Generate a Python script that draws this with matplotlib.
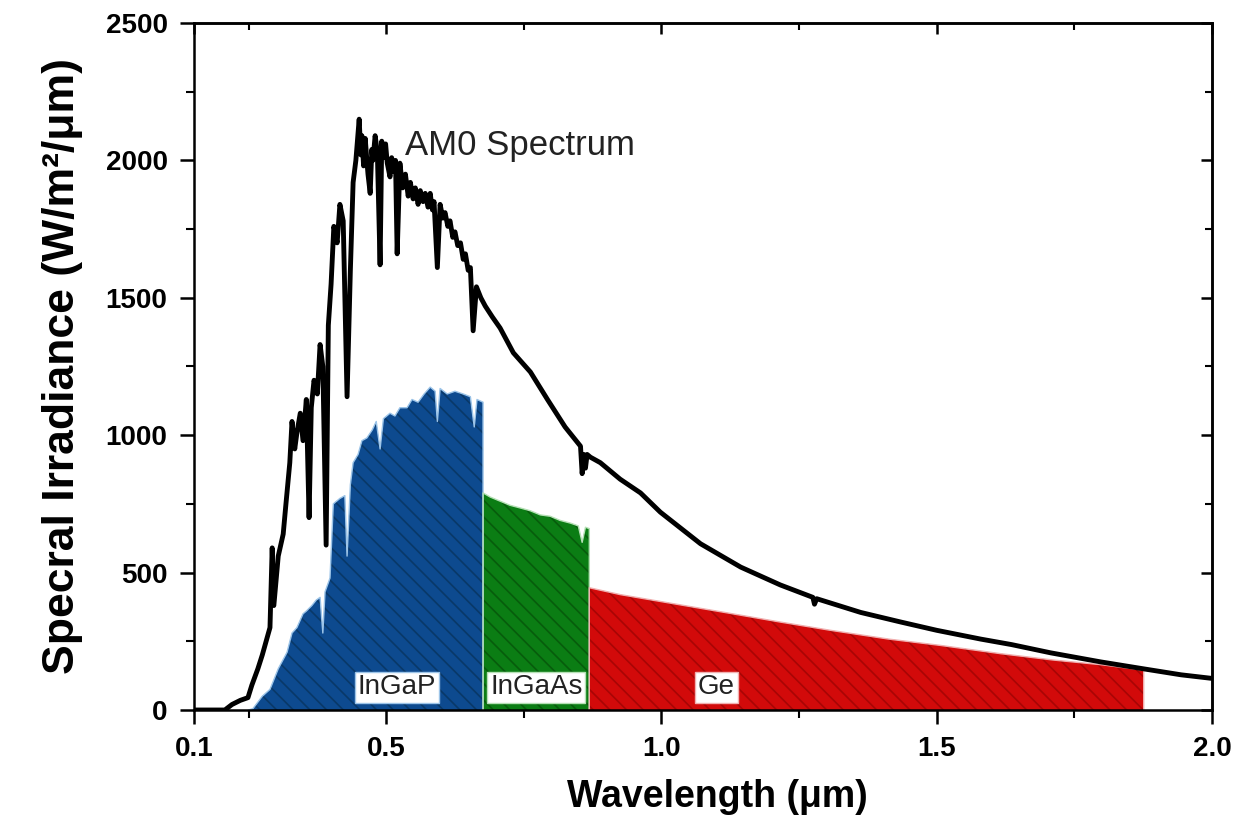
import numpy as np
import matplotlib
matplotlib.use("Agg")
import matplotlib.pyplot as plt
from matplotlib.ticker import FixedLocator

# AM0 spectrum (wavelength in um, irradiance in W/m2/um)
am0_wl = [0.151, 0.207, 0.220, 0.235, 0.249, 0.256, 0.267, 0.275, 0.282, 0.289,
          0.293, 0.296, 0.304, 0.313, 0.318, 0.325, 0.329, 0.334, 0.338, 0.344,
          0.349, 0.355, 0.360, 0.364, 0.369, 0.375, 0.380, 0.385, 0.391, 0.395,
          0.400, 0.405, 0.411, 0.416, 0.422, 0.429, 0.435, 0.440, 0.445, 0.451,
          0.454, 0.456, 0.459, 0.462, 0.465, 0.467, 0.471, 0.474, 0.476, 0.480,
          0.484, 0.489, 0.492, 0.495, 0.499, 0.502, 0.507, 0.510, 0.513, 0.517,
          0.520, 0.525, 0.530, 0.535, 0.540, 0.544, 0.549, 0.553, 0.558, 0.562,
          0.567, 0.571, 0.576, 0.580, 0.584, 0.587, 0.593, 0.598, 0.603, 0.607,
          0.612, 0.616, 0.621, 0.625, 0.630, 0.635, 0.640, 0.644, 0.649, 0.653,
          0.658, 0.664, 0.672, 0.680, 0.693, 0.707, 0.731, 0.762, 0.793, 0.825,
          0.853, 0.856, 0.859, 0.862, 0.865, 0.871, 0.889, 0.925, 0.962, 0.998,
          1.071, 1.144, 1.216, 1.275, 1.278, 1.282, 1.362, 1.435, 1.500, 1.580,
          1.636, 1.707, 1.798, 1.875, 1.944, 2.000]
am0_irr = [0, 0, 20, 35, 45, 90, 150, 200, 250, 300,
           590, 380, 560, 640, 750, 900, 1050, 950, 1010, 1080,
           980, 1130, 700, 1100, 1200, 1150, 1330, 1250, 600, 1400,
           1550, 1760, 1700, 1840, 1780, 1140, 1600, 1920, 2000, 2150,
           2020, 2090, 1980, 2080, 2000, 1950, 1880, 2040, 2000, 2090,
           2030, 1620, 2070, 2010, 2060, 1990, 1940, 2010, 1960, 2000,
           1660, 1990, 1900, 1950, 1870, 1920, 1860, 1900, 1840, 1890,
           1850, 1880, 1830, 1880, 1820, 1850, 1610, 1840, 1790, 1810,
           1760, 1780, 1720, 1740, 1690, 1700, 1640, 1660, 1600, 1610,
           1380, 1540, 1500, 1470, 1430, 1390, 1300, 1230, 1130, 1030,
           960, 860, 930, 880, 930, 920, 900, 840, 790, 720,
           605, 520, 455, 410, 385, 405, 355, 320, 290, 258,
           238, 208, 175, 150, 128, 115]

# InGaP top cell share
ingap_wl = [0.250, 0.258, 0.275, 0.289, 0.304, 0.320, 0.329, 0.338, 0.349, 0.355,
            0.365, 0.373, 0.380, 0.385, 0.389, 0.398, 0.404, 0.416, 0.425, 0.429,
            0.435, 0.440, 0.449, 0.456, 0.465, 0.475, 0.482, 0.489, 0.495, 0.507,
            0.516, 0.525, 0.538, 0.547, 0.558, 0.569, 0.580, 0.589, 0.593, 0.598,
            0.611, 0.625, 0.640, 0.653, 0.660, 0.665, 0.676]
ingap_irr = [0, 5, 50, 75, 150, 210, 280, 300, 350, 360,
             380, 400, 410, 280, 430, 480, 750, 770, 780, 560,
             820, 900, 930, 980, 990, 1020, 1050, 950, 1060, 1080,
             1070, 1100, 1100, 1130, 1120, 1150, 1175, 1160, 1050, 1170,
             1150, 1160, 1150, 1140, 1030, 1130, 1120]

# InGaAs middle cell share
ingaas_wl = [0.676, 0.689, 0.707, 0.725, 0.744, 0.762, 0.780, 0.798, 0.816, 0.835,
             0.849, 0.856, 0.862, 0.869]
ingaas_irr = [790, 775, 760, 745, 735, 725, 710, 705, 690, 680,
              670, 610, 665, 660]

# Ge bottom cell share
ge_wl = [0.869, 0.925, 0.998, 1.115, 1.216, 1.307, 1.413, 1.507, 1.616, 1.711,
         1.798, 1.876]
ge_irr = [445, 420, 395, 355, 320, 290, 258, 235, 205, 182,
          165, 145]

x_ticks = [0.151, 0.5, 1.0, 1.5, 2.0]
x_tick_labels = ["0.1", "0.5", "1.0", "1.5", "2.0"]
x_minor = [0.25, 0.75, 1.25, 1.75]
y_ticks = [0, 500, 1000, 1500, 2000, 2500]
y_minor = [250, 750, 1250, 1750, 2250]

plt.rcParams['font.family'] = ['Liberation Sans', 'DejaVu Sans']
plt.rcParams['hatch.linewidth'] = 1.2

fig = plt.figure(figsize=(12.47, 8.36), dpi=100)
ax = fig.add_axes([194 / 1247, 126 / 836, 1018 / 1247, 687 / 836])


def fill_cell(wl, irr, face, hatch_col, edge_col):
    wl = [wl[0]] + list(wl) + [wl[-1]]
    irr = [0] + list(irr) + [0]
    ax.fill(wl, irr, facecolor=face, edgecolor=hatch_col, hatch="\\\\", linewidth=0, zorder=2)
    ax.plot(wl, irr, color=edge_col, lw=1.0, zorder=2.5)


fill_cell(ingap_wl, ingap_irr, "#0d4a8f", "#093868", "#9cc4e8")
fill_cell(ingaas_wl, ingaas_irr, "#0b7d14", "#075c0c", "#b5e0b5")
fill_cell(ge_wl, ge_irr, "#d20a0a", "#a80505", "#f0b0b0")

ax.plot(am0_wl, am0_irr, color="black", lw=3.5, zorder=3)

ax.text(0.535, 2055, "AM0 Spectrum", fontsize=25, color="#222222", va="center", ha="left", zorder=4)

box = dict(boxstyle="square,pad=0.1", facecolor="white", linewidth=1.0)
ax.text(0.520, 82, "InGaP", fontsize=20, ha="center", va="center", color="#222222",
        bbox=dict(box, edgecolor="#9cc4e8"), zorder=4)
ax.text(0.773, 82, "InGaAs", fontsize=20, ha="center", va="center", color="#222222",
        bbox=dict(box, edgecolor="#b5e0b5"), zorder=4)
ax.text(1.100, 82, "Ge", fontsize=20, ha="center", va="center", color="#222222",
        bbox=dict(box, edgecolor="#f0b0b0"), zorder=4)

ax.set_xlim(0.151, 2.0)
ax.set_ylim(0, 2500)
ax.set_xticks(x_ticks)
ax.set_xticklabels(x_tick_labels)
ax.xaxis.set_minor_locator(FixedLocator(x_minor))
ax.set_yticks(y_ticks)
ax.yaxis.set_minor_locator(FixedLocator(y_minor))

for lab in ax.get_xticklabels() + ax.get_yticklabels():
    lab.set_fontweight("bold")
    lab.set_fontsize(20)

ax.tick_params(which="major", direction="out", length=10, width=1.8, pad=9)
ax.tick_params(which="minor", direction="out", length=6, width=1.5)
for side in ["left", "bottom", "top", "right"]:
    ax.spines[side].set_linewidth(1.8)

# mirrored ticks on top/right point inward
ax2 = ax.secondary_xaxis("top")
ax2.set_xticks(x_ticks)
ax2.set_xticklabels([])
ax2.xaxis.set_minor_locator(FixedLocator(x_minor))
ax2.tick_params(which="major", direction="in", length=8, width=1.8)
ax2.tick_params(which="minor", direction="in", length=5, width=1.5)
ax3 = ax.secondary_yaxis("right")
ax3.set_yticks(y_ticks)
ax3.set_yticklabels([])
ax3.yaxis.set_minor_locator(FixedLocator(y_minor))
ax3.tick_params(which="major", direction="in", length=8, width=1.8)
ax3.tick_params(which="minor", direction="in", length=5, width=1.5)
for sec in (ax2, ax3):
    for sp in sec.spines.values():
        sp.set_linewidth(1.8)

ax.set_xlabel("Wavelength (\u03bcm)", fontsize=27, fontweight="bold", labelpad=16)
ax.xaxis.set_label_coords(0.514, -0.1)
ax.xaxis.label.set_va("top")
ax.set_ylabel("Specral Irradiance (W/m\u00b2/\u03bcm)", fontsize=32, fontweight="bold", labelpad=16)

fig.savefig("out.png", dpi=100)
